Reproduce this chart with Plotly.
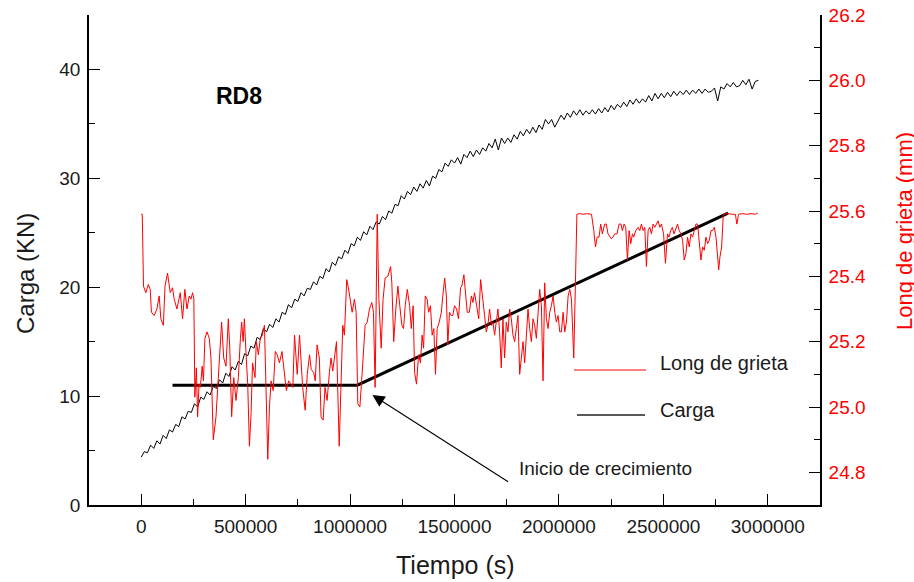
import numpy as np
import plotly.graph_objects as go

# ---- Load (Carga, kN) sampled along the test, time in ks ----
t_carga_ks = [
    0, 15, 30, 45, 60, 75, 90, 105, 120, 135,
    150, 165, 180, 195, 210, 225, 240, 255, 270, 285,
    300, 315, 330, 345, 360, 375, 390, 405, 420, 435,
    450, 465, 480, 495, 510, 525, 540, 555, 570, 585,
    600, 615, 630, 645, 660, 675, 690, 705, 720, 735,
    750, 765, 780, 795, 810, 825, 840, 855, 870, 885,
    900, 915, 930, 945, 960, 975, 990, 1005, 1020, 1035,
    1050, 1065, 1080, 1095, 1110, 1125, 1140, 1155, 1170, 1185,
    1200, 1215, 1230, 1245, 1260, 1275, 1290, 1305, 1320, 1335,
    1350, 1365, 1380, 1395, 1410, 1425, 1440, 1455, 1470, 1485,
    1500, 1515, 1530, 1545, 1560, 1575, 1590, 1605, 1620, 1635,
    1650, 1665, 1680, 1695, 1710, 1725, 1740, 1755, 1770, 1785,
    1800, 1815, 1830, 1845, 1860, 1875, 1890, 1905, 1920, 1935,
    1950, 1965, 1980, 1995, 2010, 2025, 2040, 2055, 2070, 2085,
    2100, 2115, 2130, 2145, 2160, 2175, 2190, 2205, 2220, 2235,
    2250, 2265, 2280, 2295, 2310, 2325, 2340, 2355, 2370, 2385,
    2400, 2415, 2430, 2445, 2460, 2475, 2490, 2505, 2520, 2535,
    2550, 2565, 2580, 2595, 2610, 2625, 2640, 2655, 2670, 2685,
    2700, 2715, 2730, 2745, 2760, 2775, 2790, 2805, 2820, 2835,
    2850, 2865, 2880, 2895, 2910, 2925, 2940, 2955,
]
carga_kn = [
    4.4, 4.9, 4.8, 5.5, 5.2, 5.9, 5.6, 6.4, 6.1, 6.9,
    6.7, 7.4, 7.2, 8.1, 7.9, 8.6, 8.5, 9.3, 9.0, 9.9,
    9.7, 10.4, 10.1, 10.9, 10.7, 11.5, 11.2, 12.1, 11.8, 12.7,
    12.4, 13.2, 12.9, 13.9, 13.7, 14.6, 14.4, 15.4, 15.2, 16.2,
    15.9, 16.6, 16.3, 17.1, 16.8, 17.7, 17.5, 18.4, 18.1, 18.9,
    18.7, 19.5, 19.2, 19.9, 19.8, 20.5, 20.2, 21.0, 20.8, 21.7,
    21.4, 22.3, 22.0, 22.8, 22.6, 23.4, 23.1, 24.0, 23.8, 24.6,
    24.3, 25.1, 24.8, 25.6, 25.3, 26.0, 25.8, 26.5, 26.2, 27.0,
    26.8, 27.6, 27.5, 28.4, 28.1, 28.8, 28.5, 29.2, 28.8, 29.5,
    29.1, 29.8, 29.3, 30.2, 30.0, 30.8, 30.6, 31.4, 31.1, 31.7,
    31.4, 31.9, 31.3, 32.2, 31.9, 32.5, 32.0, 32.6, 32.2, 32.8,
    32.5, 33.2, 32.8, 33.6, 32.6, 33.7, 33.2, 33.7, 33.3, 34.0,
    33.6, 34.3, 33.9, 34.5, 34.1, 34.7, 34.2, 34.9, 34.5, 35.4,
    35.0, 35.4, 34.7, 35.2, 35.8, 35.4, 36.0, 35.6, 36.2, 35.8,
    36.3, 35.8, 36.2, 35.9, 36.3, 35.9, 36.4, 36.0, 36.5, 36.1,
    36.7, 36.3, 36.8, 36.5, 37.0, 36.6, 37.2, 36.8, 37.3, 36.9,
    37.3, 37.0, 37.6, 37.1, 37.8, 37.3, 37.8, 37.4, 37.9, 37.5,
    38.0, 37.6, 38.0, 37.7, 38.1, 37.7, 38.1, 37.8, 38.2, 37.8,
    38.2, 37.9, 38.0, 38.3, 37.1, 38.4, 38.2, 38.7, 38.4, 38.8,
    38.4, 38.5, 39.0, 38.6, 39.1, 38.2, 38.9, 39.0,
]

# ---- Crack length (Long de grieta, mm), time in ks ----
t_grieta_ks = [
    0, 5, 11, 22, 34, 43, 49, 62, 75, 86,
    94, 106, 114, 126, 139, 150, 158, 171, 187, 198,
    209, 219, 230, 238, 246, 252, 257, 264, 270, 277,
    283, 292, 298, 305, 315, 326, 334, 345, 358, 366,
    379, 385, 395, 406, 417, 424, 433, 443, 454, 465,
    475, 481, 488, 494, 503, 510, 518, 526, 533, 545,
    551, 561, 570, 580, 590, 596, 606, 614, 622, 632,
    642, 651, 662, 674, 683, 695, 706, 715, 726, 734,
    747, 758, 766, 773, 785, 795, 806, 814, 826, 833,
    842, 853, 861, 871, 880, 890, 901, 909, 917, 925,
    935, 948, 957, 965, 973, 984, 992, 1000, 1010, 1021,
    1029, 1037, 1047, 1058, 1072, 1082, 1093, 1104, 1112, 1120,
    1130, 1138, 1149, 1158, 1168, 1181, 1194, 1200, 1209, 1219,
    1229, 1238, 1248, 1256, 1264, 1274, 1285, 1293, 1302, 1309,
    1318, 1328, 1337, 1345, 1352, 1360, 1369, 1376, 1385, 1393,
    1401, 1409, 1417, 1427, 1437, 1444, 1453, 1461, 1468, 1476,
    1484, 1492, 1500, 1510, 1519, 1529, 1535, 1545, 1553, 1561,
    1571, 1581, 1588, 1596, 1606, 1616, 1625, 1635, 1644, 1652,
    1660, 1668, 1677, 1684, 1692, 1700, 1708, 1716, 1724, 1732,
    1740, 1748, 1756, 1764, 1772, 1780, 1788, 1796, 1804, 1812,
    1820, 1828, 1836, 1844, 1852, 1860, 1868, 1876, 1884, 1892,
    1900, 1908, 1916, 1924, 1932, 1940, 1948, 1956, 1964, 1972,
    1980, 1988, 1996, 2004, 2012, 2020, 2028, 2036, 2044, 2052,
    2060, 2071, 2079, 2086, 2100, 2115, 2132, 2156, 2167, 2175,
    2183, 2192, 2200, 2208, 2219, 2227, 2235, 2243, 2251, 2259,
    2267, 2278, 2288, 2297, 2304, 2312, 2320, 2328, 2336, 2344,
    2352, 2358, 2368, 2379, 2387, 2395, 2403, 2411, 2419, 2427,
    2435, 2443, 2451, 2459, 2467, 2475, 2483, 2491, 2501, 2510,
    2520, 2527, 2535, 2543, 2551, 2560, 2568, 2576, 2584, 2592,
    2600, 2608, 2616, 2624, 2632, 2640, 2648, 2656, 2664, 2672,
    2680, 2688, 2696, 2704, 2712, 2720, 2728, 2736, 2744, 2752,
    2759, 2765, 2771, 2779, 2787, 2810, 2830, 2845, 2852, 2860,
    2880, 2900, 2920, 2940, 2952,
]
grieta_mm = [
    25.59, 25.59, 25.37, 25.35, 25.375, 25.36, 25.29, 25.28, 25.30, 25.34,
    25.27, 25.25, 25.37, 25.41, 25.35, 25.365, 25.33, 25.30, 25.35, 25.27,
    25.36, 25.30, 25.34, 25.33, 25.35, 25.33, 25.03, 25.12, 24.97, 25.07,
    25.06, 25.125, 25.08, 25.21, 25.23, 25.21, 25.15, 24.90, 24.97, 25.06,
    25.23, 25.26, 25.15, 25.125, 25.27, 25.18, 24.97, 25.09, 25.02, 25.09,
    25.21, 25.26, 25.20, 25.27, 25.15, 25.07, 24.88, 24.98, 25.135, 25.09,
    25.20, 25.16, 25.21, 25.22, 25.25, 25.08, 24.84, 25.00, 25.08, 25.05,
    25.17, 25.16, 25.135, 25.17, 25.125, 25.05, 25.08, 25.07, 25.06, 25.22,
    25.10, 25.22, 25.15, 25.06, 24.99, 25.10, 25.16, 25.115, 25.105, 25.08,
    25.19, 25.15, 24.97, 24.96, 25.06, 25.02, 25.105, 25.15, 25.11, 25.15,
    25.20, 24.88, 25.06, 25.25, 25.22, 25.39, 25.365, 25.33, 25.29, 25.33,
    25.29, 25.01, 25.00, 25.105, 25.25, 25.26, 25.30, 25.32, 25.29, 25.06,
    25.59, 25.33, 25.18, 25.33, 25.395, 25.40, 25.43, 25.38, 25.20, 25.30,
    25.37, 25.31, 25.25, 25.24, 25.31, 25.36, 25.31, 25.24, 25.31, 25.105,
    25.07, 25.16, 25.135, 25.22, 25.18, 25.34, 25.33, 25.29, 25.31, 25.22,
    25.24, 25.10, 25.24, 25.26, 25.29, 25.34, 25.395, 25.34, 25.19, 25.29,
    25.28, 25.28, 25.31, 25.30, 25.27, 25.365, 25.37, 25.405, 25.34, 25.29,
    25.29, 25.34, 25.32, 25.35, 25.31, 25.27, 25.39, 25.34, 25.28, 25.23,
    25.25, 25.30, 25.25, 25.26, 25.22, 25.26, 25.30, 25.23, 25.12, 25.27,
    25.15, 25.26, 25.23, 25.30, 25.27, 25.22, 25.20, 25.24, 25.28, 25.10,
    25.16, 25.20, 25.135, 25.23, 25.30, 25.24, 25.20, 25.27, 25.25, 25.21,
    25.30, 25.36, 25.31, 25.08, 25.38, 25.27, 25.24, 25.29, 25.31, 25.34,
    25.29, 25.26, 25.28, 25.23, 25.23, 25.29, 25.23, 25.26, 25.34, 25.36,
    25.33, 25.15, 25.38, 25.59, 25.592, 25.59, 25.592, 25.59, 25.54, 25.49,
    25.52, 25.52, 25.56, 25.53, 25.56, 25.56, 25.53, 25.52, 25.515, 25.52,
    25.53, 25.53, 25.56, 25.56, 25.54, 25.56, 25.55, 25.45, 25.54, 25.50,
    25.53, 25.52, 25.54, 25.55, 25.54, 25.56, 25.54, 25.55, 25.43, 25.54,
    25.55, 25.53, 25.56, 25.55, 25.56, 25.57, 25.55, 25.56, 25.53, 25.44,
    25.53, 25.52, 25.54, 25.55, 25.53, 25.55, 25.56, 25.54, 25.53, 25.51,
    25.45, 25.47, 25.52, 25.49, 25.53, 25.52, 25.54, 25.56, 25.56, 25.50,
    25.45, 25.49, 25.48, 25.52, 25.50, 25.51, 25.54, 25.54, 25.55, 25.52,
    25.47, 25.42, 25.46, 25.49, 25.59, 25.592, 25.59, 25.59, 25.56, 25.59,
    25.592, 25.59, 25.592, 25.59, 25.594,
]

# ---- Growth-onset guide line (plateau then linear growth), on the load axis ----
t_guia_s = [150000, 1035000, 2810000]
guia_kn = [11.0, 11.0, 26.8]

assert len(t_carga_ks) == len(carga_kn)
assert len(t_grieta_ks) == len(grieta_mm)

t_carga_s = np.array(t_carga_ks) * 1000
t_grieta_s = np.array(t_grieta_ks) * 1000

FONT = "Arial, Liberation Sans, sans-serif"
W, H = 914, 582
L, R, T, B = 89, 820, 15, 505


def px(x):
    return (x - L) / (R - L)


def py(y):
    return (B - y) / (B - T)


fig = go.Figure()

fig.add_trace(go.Scatter(
    x=t_grieta_s, y=grieta_mm, yaxis="y2", mode="lines",
    line=dict(color="#ff0000", width=1), name="Long de grieta",
))
fig.add_trace(go.Scatter(
    x=t_carga_s, y=carga_kn, mode="lines",
    line=dict(color="#000000", width=1), name="Carga",
))
fig.add_trace(go.Scatter(
    x=t_guia_s, y=guia_kn, mode="lines",
    line=dict(color="#000000", width=3), showlegend=False,
))

axis_common = dict(
    automargin=False,
    showline=True, linecolor="black", linewidth=1.6,
    ticks="inside", ticklen=11, tickwidth=1.4, tickcolor="black",
    showgrid=False, zeroline=False,
    ticklabelstandoff=3,
)
tick_font_dark = dict(family=FONT, size=19, color="#1a1a1a")

fig.update_layout(
    width=W, height=H,
    margin=dict(l=L, r=W - R, t=T, b=H - B, autoexpand=False),
    paper_bgcolor="white", plot_bgcolor="white",
    showlegend=False,
    font=dict(family=FONT, color="#1a1a1a"),
    xaxis=dict(
        **axis_common, tickfont=tick_font_dark,
        range=[-250000, 3250000], dtick=500000, tick0=0, tickformat="d",
        minor=dict(dtick=250000, tick0=0, ticks="inside", ticklen=6,
                   tickwidth=1.4, tickcolor="black"),
    ),
    yaxis=dict(
        **axis_common, tickfont=tick_font_dark,
        range=[0, 45], dtick=10, tick0=0,
        minor=dict(dtick=5, tick0=0, ticks="inside", ticklen=6,
                   tickwidth=1.4, tickcolor="black"),
    ),
    yaxis2=dict(
        **axis_common,
        tickfont=dict(family=FONT, size=19, color="#ff0000"),
        overlaying="y", side="right",
        range=[24.7, 26.2], dtick=0.2, tick0=0, tickformat=".1f",
        minor=dict(dtick=0.1, tick0=0, ticks="inside", ticklen=6,
                   tickwidth=1.4, tickcolor="black"),
    ),
)

annotations = [
    # axis titles
    dict(text="Tiempo (s)", x=px(455), y=py(565), xref="paper", yref="paper",
         showarrow=False, xanchor="center", yanchor="middle",
         font=dict(family=FONT, size=25, color="#1a1a1a")),
    dict(text="Carga (KN)", x=px(25), y=py(274), xref="paper", yref="paper",
         showarrow=False, xanchor="center", yanchor="middle", textangle=-90,
         font=dict(family=FONT, size=24, color="#1a1a1a")),
    dict(text="Long de grieta (mm)", x=px(905), y=py(231), xref="paper", yref="paper",
         showarrow=False, xanchor="center", yanchor="middle", textangle=-90,
         font=dict(family=FONT, size=22, color="#ff0000")),
    # specimen label
    dict(text="<b>RD8</b>", x=px(239), y=py(96), xref="paper", yref="paper",
         showarrow=False, xanchor="center", yanchor="middle",
         font=dict(family=FONT, size=23, color="black")),
    # legend texts
    dict(text="Long de grieta", x=px(658), y=py(363), xref="paper", yref="paper",
         showarrow=False, xanchor="left", yanchor="middle",
         font=dict(family=FONT, size=20, color="#1a1a1a")),
    dict(text="Carga", x=px(658), y=py(410), xref="paper", yref="paper",
         showarrow=False, xanchor="left", yanchor="middle",
         font=dict(family=FONT, size=20, color="#1a1a1a")),
    # growth-onset callout
    dict(text="", x=1107000, y=10.1, xref="x", yref="y",
         ax=1764000, ay=2.05, axref="x", ayref="y",
         showarrow=True, arrowhead=2, arrowsize=2.2, arrowwidth=1.1,
         arrowcolor="black", standoff=0),
    dict(text="Inicio de crecimiento", x=px(517), y=py(468), xref="paper", yref="paper",
         showarrow=False, xanchor="left", yanchor="middle",
         font=dict(family=FONT, size=19, color="#1a1a1a")),
]
fig.update_layout(annotations=annotations)

# legend sample lines
fig.add_shape(type="line", xref="paper", yref="paper",
              x0=px(574), x1=px(646), y0=py(370), y1=py(370),
              line=dict(color="#ff0000", width=1.2))
fig.add_shape(type="line", xref="paper", yref="paper",
              x0=px(577), x1=px(645), y0=py(415), y1=py(415),
              line=dict(color="#222222", width=1.6))

fig.write_html("out.html")
